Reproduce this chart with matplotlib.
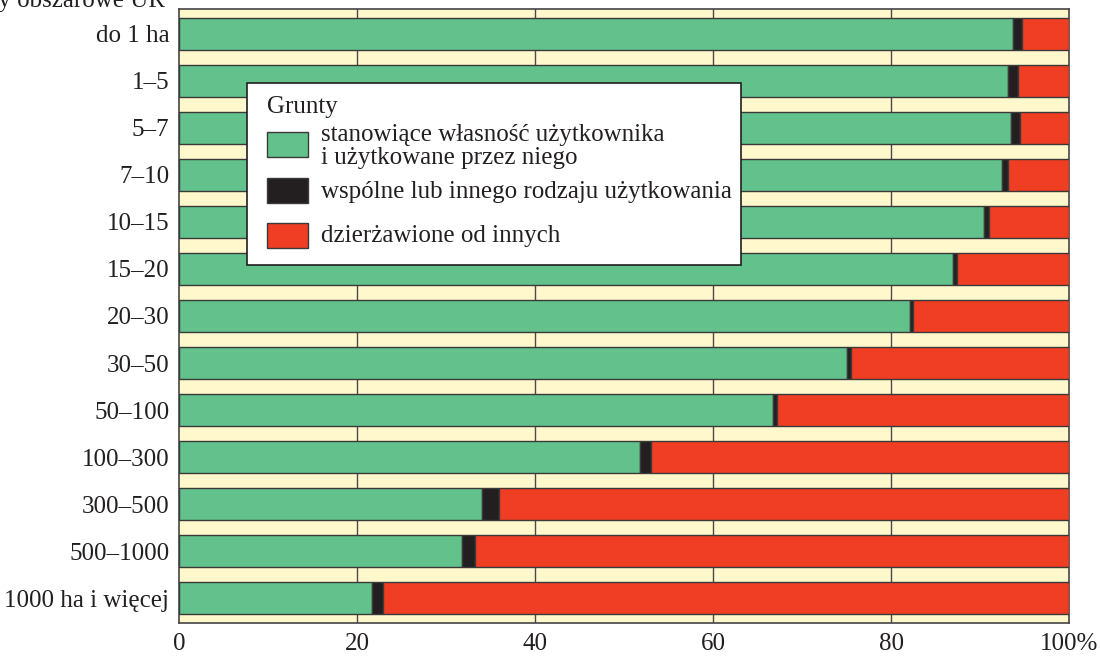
import matplotlib
matplotlib.use("Agg")
import matplotlib.pyplot as plt
from matplotlib.patches import Rectangle

categories = ["do 1 ha", "1–5", "5–7", "7–10", "10–15", "15–20", "20–30",
              "30–50", "50–100", "100–300", "300–500", "500–1000", "1000 ha i więcej"]
own = [93.7, 93.1, 93.5, 92.5, 90.4, 87.0, 82.1, 75.0, 66.7, 51.8, 34.1, 31.8, 21.7]
common = [1.05, 1.2, 1.0, 0.6, 0.6, 0.4, 0.4, 0.5, 0.5, 1.2, 1.9, 1.5, 1.2]
leased = [100 - a - b for a, b in zip(own, common)]
legend_title = "Grunty"
series_labels = ["stanowiące własność użytkownika\ni użytkowane przez niego",
                 "wspólne lub innego rodzaju użytkowania",
                 "dzierżawione od innych"]
xticks = [0, 20, 40, 60, 80, 100]
xticklabels = ["0", "20", "40", "60", "80", "100%"]
axis_title = "Grupy obszarowe UR"

c_green = "#63C18C"
c_black = "#231F20"
c_red = "#EF3E23"
c_bg = "#FFF8CC"
c_edge = "#3a3a3a"
c_text = "#231F20"
colors = [c_green, c_black, c_red]

plt.rcParams['font.family'] = ['Liberation Serif', 'DejaVu Serif']
FS = 18
W, H = 1100, 656

fig = plt.figure(figsize=(W / 100, H / 100), dpi=100)
ax = fig.add_axes([179 / W, 1 - 623 / H, 890 / W, 614 / H])
ax.set_facecolor(c_bg)

y = list(range(len(categories)))
h = 0.69
ax.barh(y, own, height=h, color=c_green, edgecolor=c_edge, linewidth=1.0, zorder=3)
ax.barh(y, common, left=own, height=h, color=c_black, edgecolor=c_edge, linewidth=1.0, zorder=3)
left3 = [a + b for a, b in zip(own, common)]
ax.barh(y, leased, left=left3, height=h, color=c_red, edgecolor=c_edge, linewidth=1.0, zorder=3)

ax.set_xlim(0, 100)
ax.set_ylim(len(categories) - 0.47, -0.53)
ax.set_yticks(y)
ax.set_yticklabels(categories, fontsize=FS)
ax.set_xticks(xticks)
ax.set_xticklabels(xticklabels, fontsize=FS)
ax.tick_params(axis='both', length=0, colors=c_text)
ax.tick_params(axis='y', pad=7)
ax.tick_params(axis='x', pad=7)
for x in xticks[1:-1]:
    ax.axvline(x, color='#4a4a4a', lw=1.0, zorder=1)
for s in ax.spines.values():
    s.set_color('#444444')
    s.set_linewidth(1.2)


# legend box (drawn in figure pixel space)
def fx(px):
    return px / W


def fy(py):
    return 1 - py / H


tf = fig.transFigure
ax.add_patch(Rectangle((fx(247), fy(265)), fx(741) - fx(247), fy(83) - fy(265),
                       transform=tf, facecolor='white', edgecolor=c_text, lw=1.2,
                       zorder=10, clip_on=False))
ax.text(fx(267), fy(113), legend_title, transform=tf, fontsize=FS, color=c_text,
        ha='left', va='baseline', zorder=11)
handle_tops = [132, 178, 223]
text_baselines = [164, 198, 242]  # baseline of last line
for col, lab, ht, tb in zip(colors, series_labels, handle_tops, text_baselines):
    ax.add_patch(Rectangle((fx(267), fy(ht + 25)), fx(308) - fx(267), fy(ht) - fy(ht + 25),
                           transform=tf, facecolor=col, edgecolor=c_edge, lw=1.0,
                           zorder=11, clip_on=False))
    ax.text(fx(321), fy(tb), lab, transform=tf, fontsize=FS, color=c_text,
            ha='left', va='baseline', linespacing=1.05, zorder=11)

fig.text(165 / W, 1 - 7 / H, axis_title, ha='right', va='baseline',
         fontsize=FS, color=c_text)

fig.savefig("out.png", dpi=100)
